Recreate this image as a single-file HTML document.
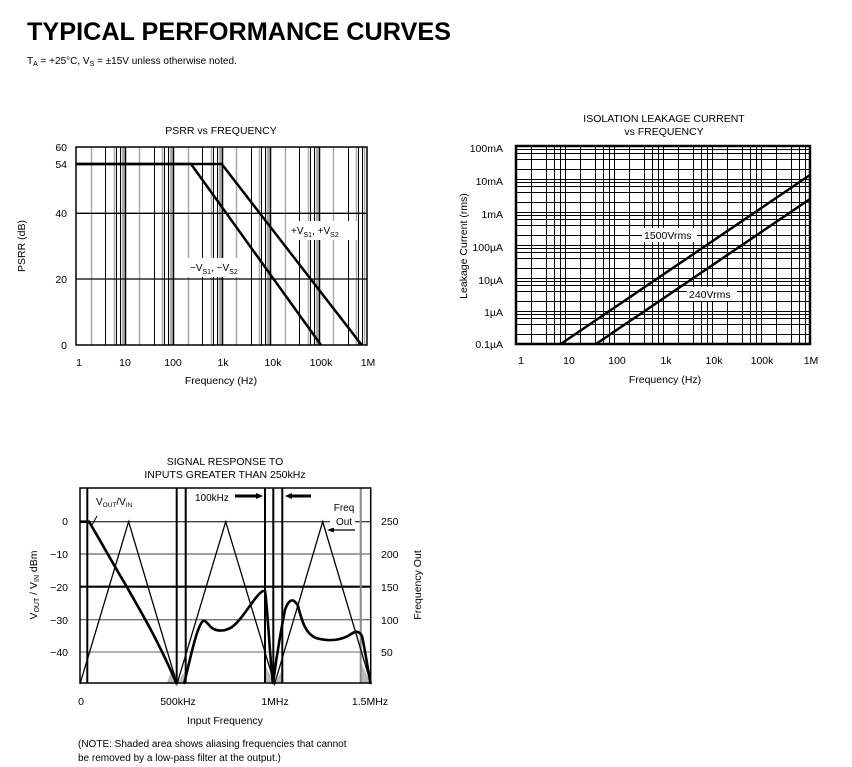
<!DOCTYPE html>
<html><head><meta charset="utf-8"><style>
html,body{margin:0;padding:0;background:#fff;}
svg{display:block;font-family:"Liberation Sans",Arial,sans-serif;}
</style></head><body>
<svg id="s" width="852" height="767" viewBox="0 0 852 767" xmlns="http://www.w3.org/2000/svg">
<text x="27" y="40" font-size="25" font-weight="bold" textLength="424" lengthAdjust="spacingAndGlyphs">TYPICAL PERFORMANCE CURVES</text>
<text x="27" y="64" font-size="10">T<tspan font-size="7" dy="2">A</tspan><tspan dy="-2"> = +25°C, V</tspan><tspan font-size="7" dy="2">S</tspan><tspan dy="-2"> = ±15V unless otherwise noted.</tspan></text>

<g id="psrr"></g>
<text x="221" y="134" font-size="10.5" text-anchor="middle">PSRR vs FREQUENCY</text>
<g font-size="10.5" text-anchor="end">
<text x="67" y="151">60</text><text x="67" y="168">54</text><text x="67" y="217">40</text><text x="67" y="283">20</text><text x="67" y="349">0</text>
</g>
<g font-size="10.5" text-anchor="middle">
<text x="79" y="366">1</text><text x="125" y="366">10</text><text x="173" y="366">100</text><text x="223" y="366">1k</text><text x="273" y="366">10k</text><text x="321" y="366">100k</text><text x="368" y="366">1M</text>
<text x="221" y="384">Frequency (Hz)</text>
</g>
<text transform="translate(25,246) rotate(-90)" font-size="10.5" text-anchor="middle">PSRR (dB)</text>
<polyline points="76,164 221.7,164 361.7,345" fill="none" stroke="#000" stroke-width="2.5"/>
<polyline points="76,164 191,164 321,345" fill="none" stroke="#000" stroke-width="2.5"/>
<rect x="287" y="221" width="70" height="19" fill="#fff"/>
<text x="291" y="234" font-size="10">+V<tspan font-size="7" dy="3">S1</tspan><tspan dy="-3">, +V</tspan><tspan font-size="7" dy="3">S2</tspan></text>
<rect x="186" y="258" width="60" height="19" fill="#fff"/>
<text x="190" y="271" font-size="10">−V<tspan font-size="7" dy="3">S1</tspan><tspan dy="-3">, −V</tspan><tspan font-size="7" dy="3">S2</tspan></text>

<g id="leak"></g>
<text x="664" y="122" font-size="10.5" text-anchor="middle">ISOLATION LEAKAGE CURRENT</text>
<text x="664" y="135" font-size="10.5" text-anchor="middle">vs FREQUENCY</text>
<g font-size="10.5" text-anchor="end">
<text x="503" y="152">100mA</text><text x="503" y="185">10mA</text><text x="503" y="218">1mA</text><text x="503" y="251">100µA</text><text x="503" y="284">10µA</text><text x="503" y="316">1µA</text><text x="503" y="348">0.1µA</text>
</g>
<g font-size="10.5" text-anchor="middle">
<text x="521" y="364">1</text><text x="569" y="364">10</text><text x="617" y="364">100</text><text x="666" y="364">1k</text><text x="714" y="364">10k</text><text x="762" y="364">100k</text><text x="811" y="364">1M</text>
<text x="665" y="383">Frequency (Hz)</text>
</g>
<text transform="translate(467,246) rotate(-90)" font-size="10.5" text-anchor="middle">Leakage Current (rms)</text>
<line x1="560.7" y1="344" x2="810" y2="175" stroke="#000" stroke-width="2.5"/>
<line x1="596" y1="344" x2="810" y2="199" stroke="#000" stroke-width="2.5"/>
<rect x="642" y="228" width="55" height="14" fill="#fff"/>
<text x="644" y="239" font-size="10.5">1500Vrms</text>
<rect x="687" y="287" width="50" height="14" fill="#fff"/>
<text x="689" y="298" font-size="10.5">240Vrms</text>

<text x="225" y="465" font-size="10.5" text-anchor="middle">SIGNAL RESPONSE TO</text>
<text x="225" y="478" font-size="10.5" text-anchor="middle">INPUTS GREATER THAN 250kHz</text>
<g stroke="#000">
<polygon points="167,683 177,683 177,676 172,668" fill="#bbb" stroke="none"/>
<polygon points="177,683 186,683 186,670" fill="#bbb" stroke="none"/>
<polygon points="265,683 283,683 283,668 274.6,684 265,665" fill="#bbb" stroke="none"/>
<polygon points="360.7,683 370.7,683 360.7,662" fill="#bbb" stroke="none"/>
<line x1="80" y1="586.7" x2="370.7" y2="586.7" stroke-width="2.2"/>
<line x1="80" y1="521.7" x2="370.7" y2="521.7" stroke-width="1"/>
<line x1="80" y1="554" x2="370.7" y2="554" stroke-width="1" stroke="#444"/>
<line x1="80" y1="619.7" x2="370.7" y2="619.7" stroke-width="1" stroke="#444"/>
<line x1="80" y1="652" x2="370.7" y2="652" stroke-width="1" stroke="#666"/>
<line x1="87.3" y1="488" x2="87.3" y2="683" stroke-width="2"/>
<line x1="176.7" y1="488" x2="176.7" y2="683" stroke-width="2"/>
<line x1="185.7" y1="488" x2="185.7" y2="683" stroke-width="2"/>
<line x1="265" y1="488" x2="265" y2="683" stroke-width="2"/>
<line x1="273.3" y1="488" x2="273.3" y2="683" stroke-width="2"/>
<line x1="282.3" y1="488" x2="282.3" y2="683" stroke-width="2"/>
<line x1="360.7" y1="488" x2="360.7" y2="683" stroke-width="2" stroke="#888"/>
<rect x="80" y="488" width="290.7" height="195" fill="none" stroke-width="1.5"/>
<polyline points="80,684 128.6,521.7 177,684 225.7,521.7 274.6,684 322.7,521.7 371,684" fill="none" stroke-width="1.3"/>
<path d="M80,521.7 L89,521.7 C100,540 112,562 124,582 C140,610 158,640 176.7,684" fill="none" stroke-width="2.6"/>
<path d="M184,684 C190,660 196,630 202,622 C205,618 208,625 212,628 C218,632 226,631 232,627 C244,618 255,595 263,591 L265,591 C267,600 270,660 273,684 C276,660 281,630 285,610 C289,598 294,598 298,606 C302,622 306,634 316,638 C330,642 340,640 348,636 C354,632 358,629 362,636 C365,650 368,670 370.7,684" fill="none" stroke-width="2.6"/>
<line x1="235" y1="496" x2="258" y2="496" stroke-width="3"/>
<polygon points="256,493 263,496 256,499" stroke="none" fill="#000"/>
<line x1="290" y1="496" x2="311" y2="496" stroke-width="3"/>
<polygon points="292,493 285,496 292,499" stroke="none" fill="#000"/>
<line x1="355" y1="530" x2="333" y2="530" stroke-width="1.2"/>
<polygon points="334,527.5 327,530 334,532.5" stroke="none" fill="#000"/>
<line x1="97" y1="516" x2="91" y2="527" stroke-width="1"/>
</g>
<rect x="191" y="490" width="44" height="13" fill="#fff"/>
<text x="195" y="501" font-size="10">100kHz</text>
<rect x="330" y="500" width="25" height="28" fill="#fff"/>
<text x="344" y="511" font-size="10" text-anchor="middle">Freq</text>
<text x="344" y="525" font-size="10" text-anchor="middle">Out</text>
<rect x="93" y="494" width="44" height="16" fill="#fff"/>
<text x="96" y="505" font-size="10">V<tspan font-size="6.5" dy="2">OUT</tspan><tspan dy="-2">/V</tspan><tspan font-size="6.5" dy="2">IN</tspan></text>
<g font-size="10.5" text-anchor="end">
<text x="68" y="525">0</text><text x="68" y="558">−10</text><text x="68" y="591">−20</text><text x="68" y="624">−30</text><text x="68" y="656">−40</text>
</g>
<g font-size="10.5">
<text x="381" y="525">250</text><text x="381" y="558">200</text><text x="381" y="591">150</text><text x="381" y="624">100</text><text x="381" y="656">50</text>
</g>
<text transform="translate(421,585) rotate(-90)" font-size="10.5" text-anchor="middle">Frequency Out</text>
<text transform="translate(37,585) rotate(-90)" font-size="10.5" text-anchor="middle">V<tspan font-size="7" dy="2">OUT</tspan><tspan dy="-2"> / V</tspan><tspan font-size="7" dy="2">IN</tspan><tspan dy="-2"> dBm</tspan></text>
<g font-size="10.5" text-anchor="middle">
<text x="81" y="705">0</text><text x="178" y="705">500kHz</text><text x="275" y="705">1MHz</text><text x="370" y="705">1.5MHz</text>
<text x="225" y="724">Input Frequency</text>
</g>
<text x="78" y="747" font-size="10">(NOTE: Shaded area shows aliasing frequencies that cannot</text>
<text x="78" y="761" font-size="10">be removed by a low-pass filter at the output.)</text>
</svg>
<script>
var NS="http://www.w3.org/2000/svg";
function L(g,x1,y1,x2,y2,c,w){var l=document.createElementNS(NS,"line");l.setAttribute("x1",x1);l.setAttribute("y1",y1);l.setAttribute("x2",x2);l.setAttribute("y2",y2);l.setAttribute("stroke",c);l.setAttribute("stroke-width",w);g.appendChild(l);}
function R(v){return Math.round(v)+0.5;}
var g=document.getElementById("psrr");
var x0=76,dx=48.5,t=147,b=345;
for(var d=0;d<6;d++){
 var xs=function(k){return R(x0+dx*(d+Math.log10(k)));};
 L(g,xs(2),t,xs(2),b,"#aaa",1.5);
 L(g,xs(4),t,xs(4),b,"#000",1);
 L(g,xs(6),t,xs(6),b,"#aaa",1.5);
 L(g,xs(6)+2,t,xs(6)+2,b,"#000",1);
 L(g,xs(8),t,xs(8),b,"#000",1);
 L(g,xs(8)+2,t,xs(8)+2,b,"#aaa",1.5);
 if(d<5){var xd=R(x0+dx*(d+1));L(g,xd-2,t,xd-2,b,"#aaa",2);L(g,xd,t,xd,b,"#000",1.5);}
}
[213.3,279].forEach(function(y){L(g,x0,y,367,y,"#000",1.3);});
var r=document.createElementNS(NS,"rect");r.setAttribute("x",76);r.setAttribute("y",147);r.setAttribute("width",291);r.setAttribute("height",198);r.setAttribute("fill","none");r.setAttribute("stroke","#000");r.setAttribute("stroke-width",1.5);g.appendChild(r);
g=document.getElementById("leak");
var lx=516,lr=810,ldx=49,lt=146,lb=344,ldy=33;
for(var d=0;d<6;d++){[2,4,6,8,10].forEach(function(k){var x=R(lx+ldx*(d+Math.log10(k)));if(x>lx+1&&x<lr-1)L(g,x,lt,x,lb,"#000",1);});}
for(var d=0;d<6;d++){[2,4,6,8,10].forEach(function(k){var y=R(lb-ldy*(d+Math.log10(k)));if(y>lt+1&&y<lb-1)L(g,lx,y,lr,y,"#000",1);});}
r=document.createElementNS(NS,"rect");r.setAttribute("x",lx);r.setAttribute("y",lt);r.setAttribute("width",lr-lx);r.setAttribute("height",lb-lt);r.setAttribute("fill","none");r.setAttribute("stroke","#000");r.setAttribute("stroke-width",2.5);g.appendChild(r);
</script>
</body></html>
